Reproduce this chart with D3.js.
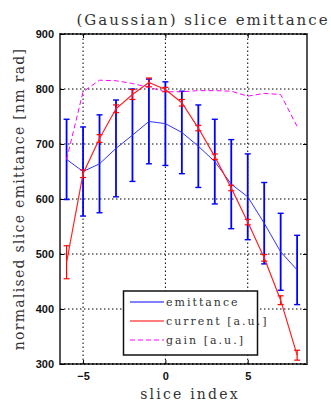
<!DOCTYPE html>
<html><head><meta charset="utf-8">
<script src="https://cdn.jsdelivr.net/npm/d3@7"></script>
<style>body{margin:0;background:#fff}</style>
</head><body>
<script>
const slices = [-6,-5,-4,-3,-2,-1,0,1,2,3,4,5,6,7,8];
const emittance = [672,650,664,692,716,741,737,721,696,668,627,604,556,504,471];
const emitErr = [73,81,89,88,84,77,76,75,75,77,81,78,74,70,63];
const current = [485,646,710,764,790,812,799,775,729,677,620,558,493,416,316];
const currErr = [30,7,7,7,9,8,4,6,5,5,5,5,6,8,9];
const gain = [672,795,816,815,810,803,795,795,797,797,796,787,792,790,732];
const xTicks = [-5,0,5];
const yTicks = [300,400,500,600,700,800,900];
const legendLabels = ["emittance","current [a.u.]","gain [a.u.]"];

const W=331,H=406;
const m={l:60,r:24,t:34,b:42};
const svg=d3.select("body").append("svg").attr("width",W).attr("height",H);
const x=d3.scaleLinear().domain([-6.4,8.6]).range([m.l,W-m.r]);
const y=d3.scaleLinear().domain([300,900]).range([H-m.b,m.t]);
const serif="'DejaVu Serif', serif";

// frame
svg.append("rect").attr("x",x(-6.4)).attr("y",y(900)).attr("width",x(8.6)-x(-6.4)).attr("height",y(300)-y(900))
  .attr("fill","none").attr("stroke","#555").attr("stroke-width",2);

// grid
const g=svg.append("g");
g.selectAll(".gx").data(xTicks).join("line").attr("x1",d=>x(d)).attr("x2",d=>x(d)).attr("y1",y(300)).attr("y2",y(900))
  .attr("stroke","#000").attr("stroke-width",1).attr("stroke-dasharray","1.5,2.5");
g.selectAll(".gy").data(yTicks).join("line").attr("x1",x(-6.4)).attr("x2",x(8.6)).attr("y1",d=>y(d)).attr("y2",d=>y(d))
  .attr("stroke","#000").attr("stroke-width",d=>(d===300||d===900)?1.5:1).attr("stroke-dasharray","1.5,2.5");

// axes labels via d3 axes
const ax=svg.append("g").attr("transform",`translate(0,${y(300)})`).call(d3.axisBottom(x).tickValues(xTicks).tickSize(-4).tickPadding(8));
const ay=svg.append("g").attr("transform",`translate(${x(-6.4)},0)`).call(d3.axisLeft(y).tickValues(yTicks).tickSize(-4).tickPadding(6));
[ax,ay].forEach(a=>{a.select(".domain").remove();a.selectAll("line").attr("stroke","#000");
  a.selectAll("text").attr("font-family","'Liberation Sans',Arial,sans-serif").attr("font-weight","bold").attr("font-size",11).attr("fill","#111");});
const ayr=svg.append("g").attr("transform",`translate(${x(8.6)},0)`).call(d3.axisRight(y).tickValues(yTicks).tickSize(-4).tickFormat(""));
ayr.select(".domain").remove(); ayr.selectAll("line").attr("stroke","#000");
const axt=svg.append("g").attr("transform",`translate(0,${y(900)})`).call(d3.axisTop(x).tickValues(xTicks).tickSize(-4).tickFormat(""));
axt.select(".domain").remove(); axt.selectAll("line").attr("stroke","#000");

const line=d3.line().x((d,i)=>x(slices[i])).y(d=>y(d));

// emittance error bars
const eb=svg.append("g").attr("stroke","#0000ff").attr("stroke-width",1.8);
slices.forEach((s,i)=>{
  const cx=x(s),t=y(emittance[i]+emitErr[i]),b=y(emittance[i]-emitErr[i]);
  eb.append("line").attr("x1",cx).attr("x2",cx).attr("y1",t).attr("y2",b);
  eb.append("line").attr("x1",cx-3).attr("x2",cx+3).attr("y1",t).attr("y2",t).attr("stroke-width",1.4);
  eb.append("line").attr("x1",cx-3).attr("x2",cx+3).attr("y1",b).attr("y2",b).attr("stroke-width",1.4);
});
svg.append("path").attr("d",line(emittance)).attr("fill","none").attr("stroke","#3333ff").attr("stroke-width",1);

// gain
svg.append("path").attr("d",line(gain)).attr("fill","none").attr("stroke","#ff00ff").attr("stroke-width",1).attr("stroke-dasharray","5,3");

// current
const cb=svg.append("g").attr("stroke","#ff0000").attr("stroke-width",1.2);
slices.forEach((s,i)=>{
  const cx=x(s),t=y(current[i]+currErr[i]),b=y(current[i]-currErr[i]);
  cb.append("line").attr("x1",cx).attr("x2",cx).attr("y1",t).attr("y2",b);
  cb.append("line").attr("x1",cx-3).attr("x2",cx+3).attr("y1",t).attr("y2",t);
  cb.append("line").attr("x1",cx-3).attr("x2",cx+3).attr("y1",b).attr("y2",b);
});
svg.append("path").attr("d",line(current)).attr("fill","none").attr("stroke","#ff2222").attr("stroke-width",1.2);

// legend
const lg=svg.append("g");
lg.append("rect").attr("x",123.5).attr("y",291).attr("width",134).attr("height",64).attr("fill","#fff").attr("stroke","#111").attr("stroke-width",1.5);
const lstyles=[{c:"#0000ff",d:null},{c:"#ff0000",d:null},{c:"#ff00ff",d:"5,3"}];
const ly=[302,321,340];
legendLabels.forEach((t,i)=>{
  lg.append("line").attr("x1",130).attr("x2",164).attr("y1",ly[i]).attr("y2",ly[i]).attr("stroke",lstyles[i].c).attr("stroke-width",1.2).attr("stroke-dasharray",lstyles[i].d);
  lg.append("text").attr("x",166).attr("y",ly[i]+4).text(t).attr("font-family",serif).attr("font-size",11).attr("letter-spacing",2).attr("fill","#333");
});

// titles
svg.append("text").attr("x",203).attr("y",25).attr("text-anchor","middle").text("(Gaussian) slice emittance")
  .attr("font-family",serif).attr("font-size",15).attr("letter-spacing",2).attr("fill","#333");
svg.append("text").attr("x",190).attr("y",399).attr("text-anchor","middle").text("slice index")
  .attr("font-family",serif).attr("font-size",14).attr("letter-spacing",2.2).attr("fill","#333");
svg.append("text").attr("transform",`translate(24,${(y(300)+y(900))/2}) rotate(-90)`).attr("text-anchor","middle").text("normalised slice emittance [nm rad]")
  .attr("font-family",serif).attr("font-size",14).attr("letter-spacing",1.3).attr("fill","#333");
</script>
</body></html>
